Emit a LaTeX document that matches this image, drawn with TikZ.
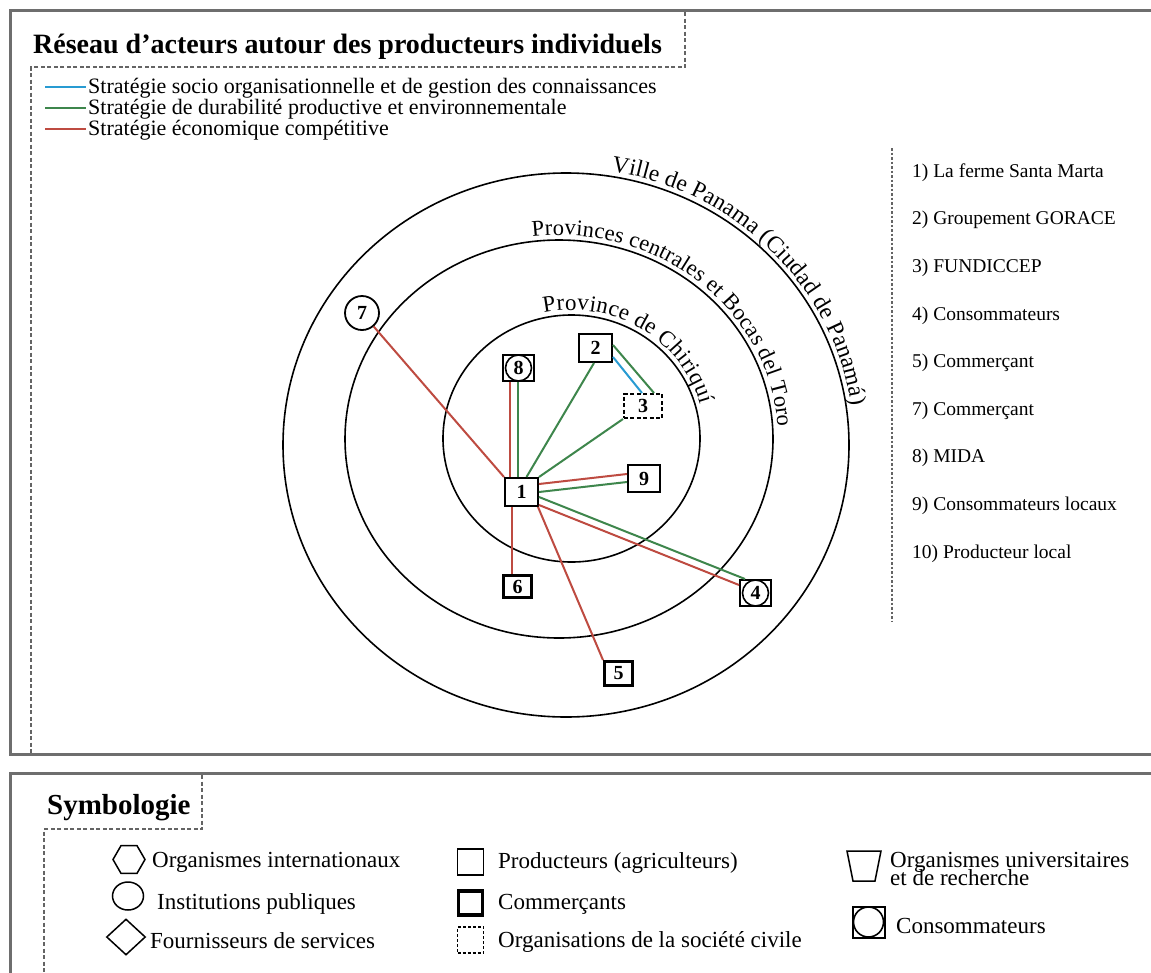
\documentclass[tikz,border=0pt]{standalone}
\usepackage{fontspec}
\setmainfont{Liberation Serif}
\usetikzlibrary{calc,decorations.text,shapes.geometric}
\definecolor{sblue}{RGB}{40,155,210}
\definecolor{sgreen}{RGB}{62,134,76}
\definecolor{sred}{RGB}{190,75,65}
\definecolor{framegray}{RGB}{110,110,110}
\definecolor{dashgray}{RGB}{100,100,100}
\newcommand{\fs}[1]{\fontsize{#1}{#1}\selectfont}
\begin{document}
\begin{tikzpicture}[x=1pt,y=1pt,
  box/.style={draw=black, line width=1.6pt, fill=white, inner sep=0pt, font=\fs{20}\bfseries},
  prod/.style={box},
  comm/.style={box, line width=3.2pt},
  civ/.style={box, dash pattern=on 4pt off 2.5pt},
  cons/.style={box, line width=2.2pt, path picture={\draw[line width=1.6pt] (path picture bounding box.center) circle[radius=#1];}},
  cons/.default=13pt,
  inst/.style={circle, draw=black, line width=1.8pt, fill=white, inner sep=0pt, font=\fs{20}\bfseries},
  link/.style={line width=2pt},
  ring/.style={line width=1.6pt},
  arclabel/.style 2 args={decorate, decoration={text along path, text align=left, raise=5pt, text={|\fs{#1}|#2}}},
  legtext/.style={anchor=base west, inner sep=0pt, font=\fs{22}},
  listtext/.style={anchor=base west, inner sep=0pt, font=\fs{19.5}},
  symtext/.style={anchor=base west, inner sep=0pt, font=\fs{23}},
  dashframe/.style={dashgray, line width=2.5pt, dash pattern=on 4pt off 2.5pt},
]
\clip (0,0) rectangle (1151,-972);
\fill[white] (0,0) rectangle (1151,-972);

% frames
\draw[framegray, line width=3pt] (10.5,-10.5) rectangle (1175,-754.5);
\draw[framegray, line width=3pt] (10.5,-773.5) rectangle (1175,-1000);
\draw[dashframe] (685,-12) -- (685,-67) -- (31,-67) -- (31,-753);
\draw[dashframe] (202,-775) -- (202,-829) -- (44,-829) -- (44,-972);
\draw[dashgray, line width=2.5pt, dash pattern=on 2.5pt off 2pt] (892,-148) -- (892,-622);

% title
\node[anchor=base west, inner sep=0pt, font=\bfseries\fs{28}] (title) at (33,-53) {Réseau d’acteurs autour des producteurs individuels};

% legend
\coordinate (lb1) at (45,-87);  \coordinate (lb2) at (86,-87);
\coordinate (lg1) at (45,-108); \coordinate (lg2) at (86,-108);
\coordinate (lr1) at (45,-129); \coordinate (lr2) at (86,-129);
\draw[sblue, line width=2.5pt] (lb1) -- (lb2);
\draw[sgreen, line width=2.5pt] (lg1) -- (lg2);
\draw[sred, line width=2.5pt] (lr1) -- (lr2);
\node[legtext] (leg1) at (88,-93.5) {Stratégie socio organisationnelle et de gestion des connaissances};
\node[legtext] (leg2) at (88,-114.5) {Stratégie de durabilité productive et environnementale};
\node[legtext] (leg3) at (88,-135.5) {Stratégie économique compétitive};

% rings
\draw[ring] (566,-445) ellipse [x radius=283pt, y radius=272pt];
\draw[ring] (559,-439) ellipse [x radius=214pt, y radius=199pt];
\draw[ring] (571.5,-438.5) ellipse [x radius=128.5pt, y radius=123.5pt];
\path[arclabel={23.5}{Ville de Panama (Ciudad de Panamá)}] ($(566,-445)+(81:283pt and 272pt)$) arc[start angle=81, end angle=-40, x radius=283pt, y radius=272pt];
\path[arclabel={22.5}{Provinces centrales et Bocas del Toro}] ($(559,-439)+(97:214pt and 199pt)$) arc[start angle=97, end angle=-40, x radius=214pt, y radius=199pt];
\path[arclabel={23}{Province de Chiriquí}] ($(571.5,-438.5)+(102:128.5pt and 123.5pt)$) arc[start angle=102, end angle=-40, x radius=128.5pt, y radius=123.5pt];

% actors
\node[prod, minimum width=33.4pt, minimum height=28.4pt] (n1) at (521.5,-492) {1};
\node[prod, minimum width=33.4pt, minimum height=28.4pt] (n2) at (595.5,-348) {2};
\node[cons, minimum width=30.8pt, minimum height=25.8pt] (n8) at (518.5,-368) {8};
\node[civ, minimum width=38.4pt, minimum height=24.4pt] (n3) at (643,-406) {3};
\node[prod, minimum width=32.4pt, minimum height=27.4pt] (n9) at (644,-478.5) {9};
\node[comm, minimum width=27.8pt, minimum height=21.8pt] (n6) at (517.5,-586.5) {6};
\node[cons, minimum width=30.8pt, minimum height=25.8pt] (n4) at (755.5,-593) {4};
\node[comm, minimum width=27.8pt, minimum height=23.8pt] (n5) at (618.5,-673.5) {5};
\node[inst, minimum size=34pt] (n7) at (362,-313) {7};

% links
\draw[link, sred] ([xshift=-11.5pt]n1.north) -- ([xshift=-8.5pt]n8.south);
\draw[link, sgreen] ([xshift=-3.5pt]n1.north) -- ([xshift=-0.5pt]n8.south);
\draw[link, sred] (n1.north west) -- (n7);
\draw[link, sgreen] ([xshift=5pt]n1.north) -- ([xshift=-1.5pt]n2.south);
\draw[link, sgreen] (n1.north east) -- (n3.south west);
\draw[link, sblue] ([yshift=6pt]n2.south east) -- ([xshift=-1pt]n3.north);
\draw[link, sgreen] ([yshift=3pt]n2.east) -- ([xshift=11pt]n3.north);
\draw[link, sred] ([yshift=8pt]n1.east) -- ([yshift=4.5pt]n9.west);
\draw[link, sgreen] (n1.east) -- ([yshift=-3.5pt]n9.west);
\draw[link, sgreen] ([yshift=-5pt]n1.east) -- ([xshift=6pt]n4.north west);
\draw[link, sred] ([yshift=2pt]n1.south east) -- ([yshift=8pt]n4.west);
\draw[link, sred] ([xshift=-9.5pt]n1.south) -- ([xshift=-5.5pt]n6.north);
\draw[link, sred] ([xshift=-1pt]n1.south east) -- (n5.north west);

% list
\node[listtext] (l1) at (912,-177) {1) La ferme Santa Marta};
\node[listtext] (l2) at (912,-224.5) {2) Groupement GORACE};
\node[listtext] (l3) at (912,-272) {3) FUNDICCEP};
\node[listtext] (l4) at (912,-320) {4) Consommateurs};
\node[listtext] (l5) at (912,-367.5) {5) Commerçant};
\node[listtext] (l7) at (912,-415) {7) Commerçant};
\node[listtext] (l8) at (912,-462.5) {8) MIDA};
\node[listtext] (l9) at (912,-510) {9) Consommateurs locaux};
\node[listtext] (l10) at (912,-558) {10) Producteur local};

% symbology
\node[anchor=base west, inner sep=0pt, font=\bfseries\fs{29}] (symb) at (47,-814) {Symbologie};
\node[regular polygon, regular polygon sides=6, draw, line width=1.5pt, minimum size=32pt, inner sep=0pt] (s1) at (129,-859.5) {};
\node[ellipse, draw, line width=1.5pt, minimum width=31pt, minimum height=28pt, inner sep=0pt] (s2) at (128,-896) {};
\node[diamond, draw, line width=1.5pt, minimum width=39pt, minimum height=36pt, inner sep=0pt] (s3) at (126,-937) {};
\node[symtext] (t1) at (152,-867) {Organismes internationaux};
\node[symtext] (t2) at (157,-909) {Institutions publiques};
\node[symtext] (t3) at (150,-948) {Fournisseurs de services};
\node[box, minimum size=26pt, line width=1.4pt] (s4) at (470.5,-862) {};
\node[box, minimum size=24pt, line width=3.2pt] (s5) at (470.5,-903) {};
\node[box, minimum size=26pt, line width=1.4pt, dash pattern=on 3pt off 2pt] (s6) at (470.5,-940) {};
\node[symtext] (t4) at (498,-868) {Producteurs (agriculteurs)};
\node[symtext] (t5) at (498,-909) {Commerçants};
\node[symtext] (t6) at (498,-947) {Organisations de la société civile};
\draw[line width=1.5pt] (847,-851) -- (881,-851) -- (875,-881) -- (853,-881) -- cycle;
\node[anchor=base west, inner sep=0pt, font=\fs{23}, align=left] (t7) at (890,-885) {Organismes universitaires\\[-5pt]et de recherche};
\node[cons=15pt, minimum width=32pt, minimum height=31pt, line width=2pt] (s8) at (868.5,-922) {};
\node[symtext] (t8) at (896,-933) {Consommateurs};
\end{tikzpicture}
\end{document}
